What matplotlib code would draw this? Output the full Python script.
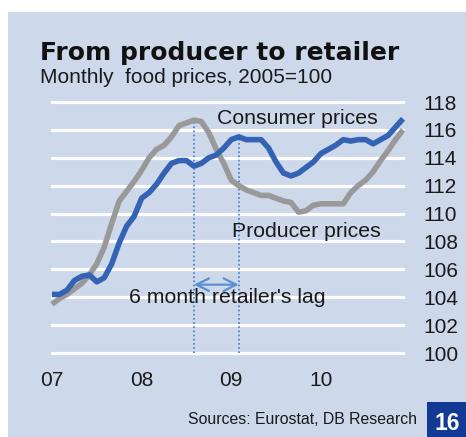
import matplotlib
matplotlib.use("Agg")
import matplotlib.pyplot as plt
import matplotlib.patches as mpatches
import numpy as np

# monthly index, Jan 2007 .. Dec 2010 (2005=100)
consumer = [104.2, 104.2, 104.5, 105.2, 105.5, 105.6, 105.1, 105.4, 106.4, 107.9,
            109.1, 109.8, 111.1, 111.5, 112.1, 112.9, 113.6, 113.8, 113.8, 113.4,
            113.6, 114.0, 114.2, 114.7, 115.3, 115.5, 115.3, 115.3, 115.3, 114.7,
            113.7, 112.9, 112.7, 112.9, 113.3, 113.7, 114.3, 114.6, 114.9, 115.3,
            115.2, 115.3, 115.3, 115.0, 115.3, 115.6, 116.2, 116.8]
producer = [103.5, 103.9, 104.2, 104.6, 105.0, 105.6, 106.4, 107.6, 109.3, 110.9,
            111.6, 112.3, 113.1, 114.0, 114.6, 114.9, 115.5, 116.3, 116.5, 116.7,
            116.6, 115.8, 114.6, 113.6, 112.4, 112.0, 111.7, 111.5, 111.3, 111.3,
            111.1, 110.9, 110.8, 110.1, 110.2, 110.6, 110.7, 110.7, 110.7, 110.7,
            111.5, 112.0, 112.4, 113.0, 113.8, 114.5, 115.3, 116.0]
year_labels = ["07", "08", "09", "10"]
y_ticks = list(range(100, 119, 2))
lag_start, lag_end = 19, 25  # Aug 2008 -> Feb 2009

months = np.arange(len(consumer))

BG = "#cdd8ea"
BLUE = "#3463b3"
GREY = "#999999"
DOT = "#3b7bd0"
TXT = "#1a1a1a"
FS = 15.3

fig = plt.figure(figsize=(4.66, 4.37), dpi=100)
fig.patch.set_facecolor("white")
fig.patches.append(mpatches.Rectangle((8 / 466, 0), 1, (437 - 12) / 437,
                                      transform=fig.transFigure, facecolor=BG,
                                      edgecolor="none", zorder=-5))

ax = fig.add_axes([52 / 466, (437 - 353) / 437, (403 - 52) / 466, (353 - 102) / 437])
ax.set_zorder(2)
ax.set_facecolor("none")
ax.set_xlim(0, len(consumer) - 1)
ax.set_ylim(100, 118)

for v in y_ticks:
    ax.axhline(v, color="white", lw=2.3, zorder=1, clip_on=False)

# retailer's lag markers
ax.plot([lag_start, lag_start], [100, producer[lag_start]], color=DOT, lw=1.2,
        ls=(0, (1, 1.5)), zorder=2)
ax.plot([lag_end, lag_end], [100, consumer[lag_end]], color=DOT, lw=1.2,
        ls=(0, (1, 1.5)), zorder=2)
ax.annotate("", xy=(lag_end, 104.9), xytext=(lag_start, 104.9),
            arrowprops=dict(arrowstyle="<->,head_length=0.9,head_width=0.45",
                            color="#5b8fd2", lw=1.6, shrinkA=0, shrinkB=0))

ax.plot(months, producer, color=GREY, lw=4, solid_capstyle="butt", zorder=3, clip_on=False)
ax.plot(months, consumer, color=BLUE, lw=4, solid_capstyle="butt", zorder=4, clip_on=False)

ax.text(32.9, 116.85, "Consumer prices", ha="center", va="center", fontsize=FS,
        color=TXT, family="Liberation Sans")
ax.text(34.1, 108.7, "Producer prices", ha="center", va="center", fontsize=FS,
        color=TXT, family="Liberation Sans")
ax.text(23.5, 103.95, "6 month retailer's lag", ha="center", va="center", fontsize=FS,
        color=TXT, family="Liberation Sans")

for s in ax.spines.values():
    s.set_visible(False)
ax.yaxis.tick_right()
ax.set_yticks(y_ticks)
ax.set_yticklabels([str(v) for v in y_ticks], ha="left")
ax.set_xticks([0, 12, 24, 36])
ax.set_xticklabels(year_labels)
ax.tick_params(axis="y", length=0, pad=14.4, labelsize=15, labelcolor=TXT)
ax.tick_params(axis="x", length=0, pad=13, labelsize=15, labelcolor=TXT)
for lab in ax.get_xticklabels() + ax.get_yticklabels():
    lab.set_family("Liberation Sans")

fig.text(40 / 466, 1 - 60 / 437, "From producer to retailer", fontsize=18,
         fontweight="bold", family="DejaVu Sans", color="#111111", va="baseline")
fig.text(40 / 466, 1 - 83 / 437, "Monthly  food prices, 2005=100", fontsize=15,
         family="Liberation Sans", color=TXT, va="baseline")
fig.text(417 / 466, 1 - 420 / 437, "Sources: Eurostat, DB Research", fontsize=11.4,
         family="Liberation Sans", color=TXT, ha="right", va="center")

fig.patches.append(mpatches.Rectangle((427 / 466, 0), 39 / 466, 35 / 437,
                                      transform=fig.transFigure, facecolor="#123a94",
                                      edgecolor="none", zorder=1))
fig.text(447.5 / 466, 1 - 424 / 437, "16", fontsize=16.5, fontweight="bold",
         family="Liberation Sans", color="white", ha="center", va="center")

fig.savefig("out.png", dpi=100, facecolor=fig.get_facecolor())
